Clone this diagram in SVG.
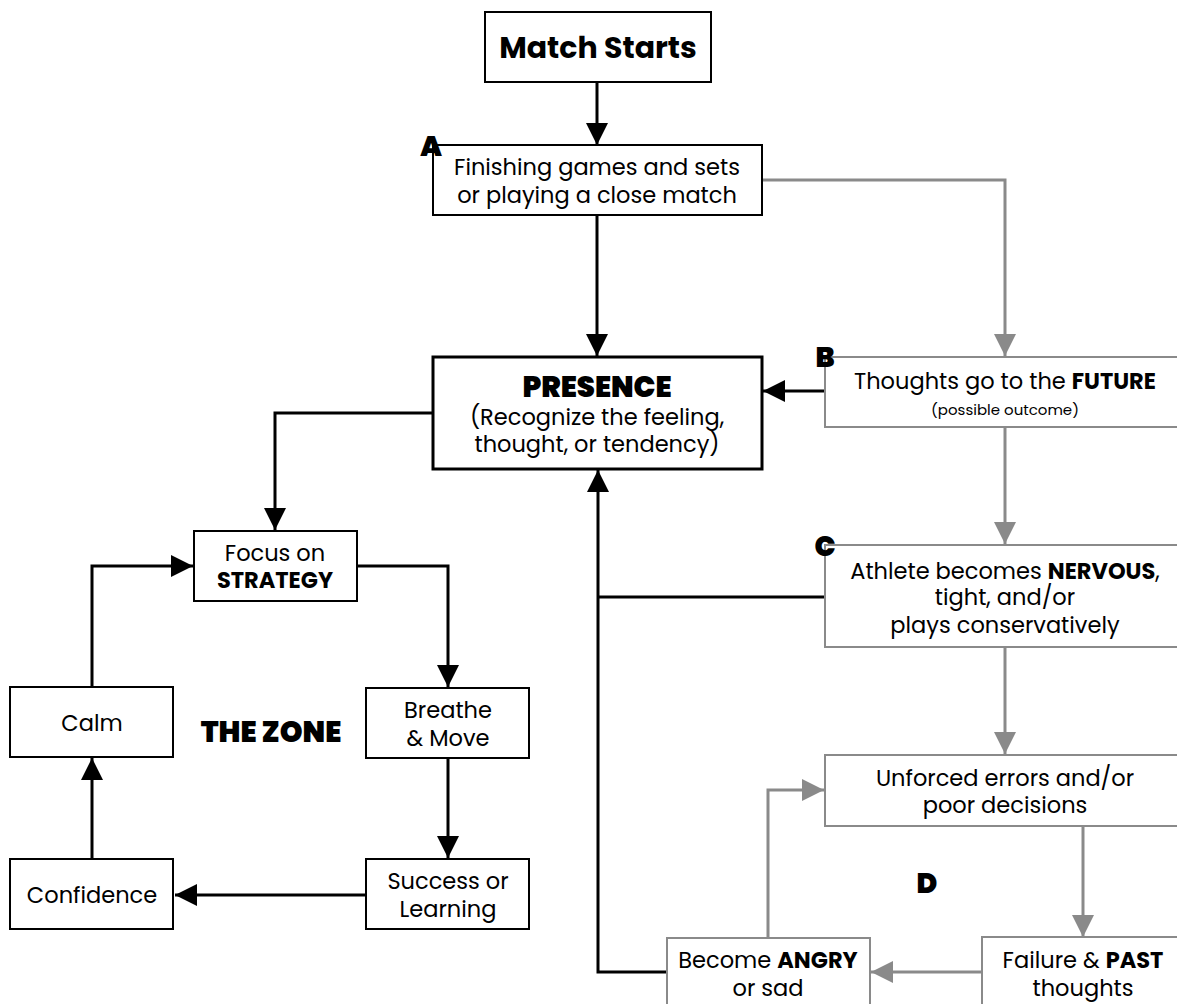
<svg xmlns="http://www.w3.org/2000/svg" width="1177" height="1004" viewBox="0 0 1177 1004">
<style>
text{font-family:"Poppins","Inter","Noto Sans",sans-serif;fill:#000;text-anchor:middle}
.t{font-size:22.5px}
.b{font-weight:700}
.h{font-weight:900}
.bk{fill:#fff;stroke:#000;stroke-width:2}
.gy{fill:#fff;stroke:#8a8a8a;stroke-width:2}
.cb{fill:none;stroke:#000;stroke-width:3}
.cg{fill:none;stroke:#8a8a8a;stroke-width:3}
.lbl{font-size:28px;font-weight:900}
</style>
<defs>
<marker id="ab" markerUnits="userSpaceOnUse" markerWidth="22" markerHeight="22" viewBox="0 0 20 20" refX="20" refY="10" orient="auto">
<path d="M0,0 L20,10 L0,20 Z" fill="#000"/>
</marker>
<marker id="ag" markerUnits="userSpaceOnUse" markerWidth="22" markerHeight="22" viewBox="0 0 20 20" refX="20" refY="10" orient="auto">
<path d="M0,0 L20,10 L0,20 Z" fill="#8a8a8a"/>
</marker>
</defs>
<g id="connectors">
<path class="cb" d="M597,82 V145" marker-end="url(#ab)"/>
<path class="cb" d="M597,215 V356" marker-end="url(#ab)"/>
<path class="cg" d="M762,180 H1005 V356" marker-end="url(#ag)"/>
<path class="cb" d="M825,391 H763" marker-end="url(#ab)"/>
<path class="cg" d="M1005,427 V544" marker-end="url(#ag)"/>
<path class="cb" d="M825,597 H598"/>
<path class="cb" d="M667,972 H598 V470" marker-end="url(#ab)"/>
<path class="cg" d="M1005,647 V754" marker-end="url(#ag)"/>
<path class="cg" d="M1083,826 V937" marker-end="url(#ag)"/>
<path class="cg" d="M982,972 H871" marker-end="url(#ag)"/>
<path class="cg" d="M768,938 V790 H824" marker-end="url(#ag)"/>
<path class="cb" d="M433,413 H275 V530" marker-end="url(#ab)"/>
<path class="cb" d="M357,566 H448 V687" marker-end="url(#ab)"/>
<path class="cb" d="M448,758 V858" marker-end="url(#ab)"/>
<path class="cb" d="M366,895 H175" marker-end="url(#ab)"/>
<path class="cb" d="M92,859 V758" marker-end="url(#ab)"/>
<path class="cb" d="M92,687 V566 H193" marker-end="url(#ab)"/>
</g>
<g id="match-starts">
<rect class="bk" x="485" y="12" width="226" height="70"/>
<text x="598" y="58" font-size="30" class="b">Match Starts</text>
</g>
<g id="finishing">
<rect class="bk" x="433" y="145" width="329" height="70"/>
<text class="t" x="597" y="175">Finishing games and sets</text>
<text class="t" x="597" y="203">or playing a close match</text>
<text class="lbl" x="431" y="156">A</text>
</g>
<g id="presence">
<rect x="433" y="357" width="329" height="112" fill="#fff" stroke="#000" stroke-width="3"/>
<text x="597" y="397" font-size="29" class="h">PRESENCE</text>
<text class="t" x="597" y="425">(Recognize the feeling,</text>
<text class="t" x="597" y="452">thought, or tendency)</text>
</g>
<g id="future">
<rect class="gy" x="825" y="357" width="360" height="70"/>
<text class="t" x="1005" y="389">Thoughts go to the <tspan class="b">FUTURE</tspan></text>
<text x="1005" y="415" font-size="15">(possible outcome)</text>
<text class="lbl" x="825" y="367">B</text>
</g>
<g id="nervous">
<rect class="gy" x="825" y="545" width="360" height="102"/>
<text class="t" x="1005" y="579">Athlete becomes <tspan class="b">NERVOUS</tspan>,</text>
<text class="t" x="1005" y="605">tight, and/or</text>
<text class="t" x="1005" y="633">plays conservatively</text>
<text class="lbl" x="825" y="556">C</text>
</g>
<g id="unforced">
<rect class="gy" x="825" y="755" width="360" height="71"/>
<text class="t" x="1005" y="786">Unforced errors and/or</text>
<text class="t" x="1005" y="813">poor decisions</text>
</g>
<g id="failure">
<rect class="gy" x="982" y="937" width="210" height="80"/>
<text class="t" x="1083" y="968">Failure &amp; <tspan class="b">PAST</tspan></text>
<text class="t" x="1083" y="996">thoughts</text>
</g>
<g id="angry">
<rect class="gy" x="667" y="938" width="203" height="80"/>
<text class="t" x="768" y="968">Become <tspan class="b">ANGRY</tspan></text>
<text class="t" x="768" y="996">or sad</text>
</g>
<text class="lbl" x="927" y="893">D</text>
<g id="focus">
<rect class="bk" x="194" y="531" width="163" height="70"/>
<text class="t" x="275" y="561">Focus on</text>
<text class="t b" x="275" y="588">STRATEGY</text>
</g>
<g id="breathe">
<rect class="bk" x="366" y="688" width="163" height="70"/>
<text class="t" x="448" y="718">Breathe</text>
<text class="t" x="448" y="746">&amp; Move</text>
</g>
<g id="success">
<rect class="bk" x="366" y="859" width="163" height="70"/>
<text class="t" x="448" y="889">Success or</text>
<text class="t" x="448" y="917">Learning</text>
</g>
<g id="confidence">
<rect class="bk" x="10" y="859" width="163" height="70"/>
<text class="t" x="92" y="903">Confidence</text>
</g>
<g id="calm">
<rect class="bk" x="10" y="687" width="163" height="70"/>
<text class="t" x="92" y="731">Calm</text>
</g>
<text x="271" y="742" font-size="29" class="h">THE ZONE</text>
</svg>
